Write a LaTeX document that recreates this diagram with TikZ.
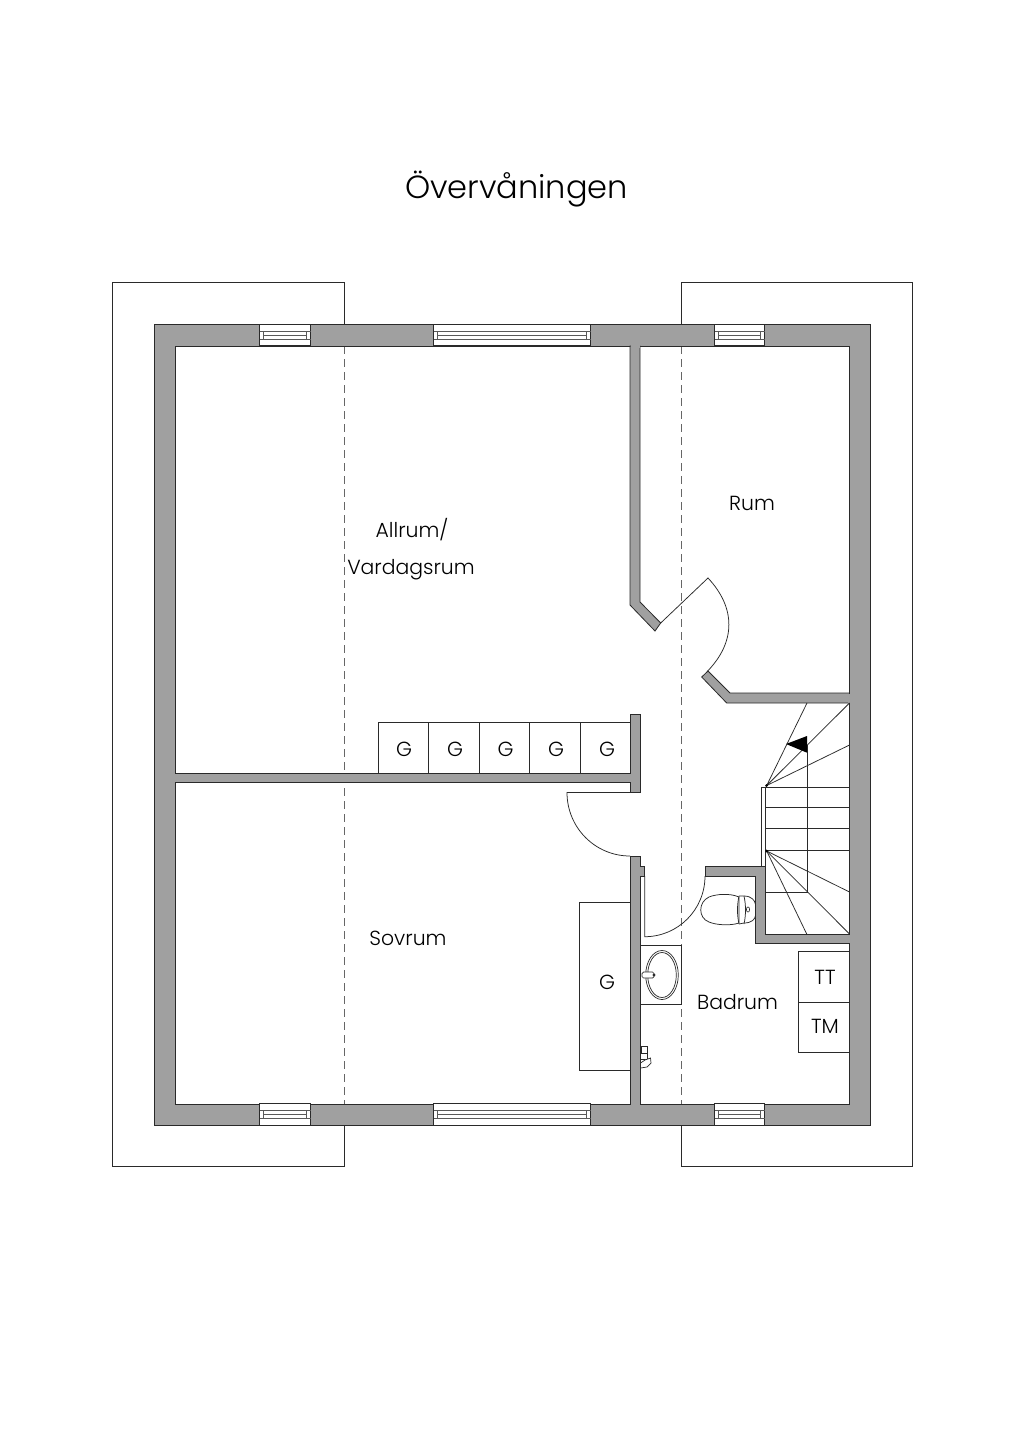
\documentclass[tikz,border=0pt]{standalone}
\usepackage{fontspec}
\setmainfont{Poppins Light}
\definecolor{wallgrey}{HTML}{A0A0A0}
\definecolor{inkline}{HTML}{2A2A2A}
\tikzset{
  wall/.style={fill=wallgrey,draw=inkline,line width=0.8pt,line join=miter},
  wallpatch/.style={fill=wallgrey},
  thin line/.style={draw=inkline,line width=0.75pt},
  dashline/.style={draw=black!60,line width=1.25pt,dash pattern=on 8pt off 5pt},
  lbl/.style={font=\fontsize{20.4}{24}\selectfont,text=black,inner sep=0pt},
  winframe/.style={fill=white,draw=inkline,line width=0.8pt},
  winline/.style={draw=black!65,line width=0.9pt},
}
\newcommand{\windowat}[3]{% x1, x2, ytop
  \path[winframe] (#1,#3) rectangle (#2,#3+21.5);
  \draw[winline] (#1+4,#3+7) rectangle (#2-4,#3+15);
  \draw[winline] (#1+4,#3+11) -- (#2-4,#3+11);
  \draw[winline] (#1,#3+7) -- (#1+4,#3+7) (#1,#3+15) -- (#1+4,#3+15);
  \draw[winline] (#2-4,#3+7) -- (#2,#3+7) (#2-4,#3+15) -- (#2,#3+15);
}
\begin{document}
\begin{tikzpicture}[x=1pt,y=-1pt]
\useasboundingbox (0,0) rectangle (1024,1448);
\fill[white] (0,0) rectangle (1024,1448);

% roof outlines
\draw[thin line] (344.3,324) -- (344.3,282.5) -- (112.5,282.5) -- (112.5,1166) -- (344.3,1166) -- (344.3,1125);
\draw[thin line] (681.3,324) -- (681.3,282.5) -- (912.5,282.5) -- (912.5,1166) -- (681.3,1166) -- (681.3,1125);

% dashed roof lines
\draw[dashline] (344.3,346) -- (344.3,1104);
\draw[dashline] (681.3,346) -- (681.3,1104);

% outer wall
\path[wall,even odd rule] (154.5,324.5) rectangle (870,1125) (175.7,346) rectangle (849.5,1104);
\windowat{259.7}{310.7}{324.3}
\windowat{433.7}{590.7}{324.3}
\windowat{714.7}{764.7}{324.3}
\windowat{259.7}{310.7}{1103.8}
\windowat{433.7}{590.7}{1103.8}
\windowat{714.7}{764.7}{1103.8}

% closets
\draw[thin line] (630,722.7) -- (378,722.7) -- (378,773);
\foreach \x in {428.5,479,529.5,580} \draw[thin line] (\x,722.7) -- (\x,773);

% wardrobe
\draw[thin line] (630,902) -- (579.5,902) -- (579.5,1070) -- (630,1070);

% interior walls
\path[wall] (630,346) -- (640,346) -- (640,602) -- (660.7,623) -- (655,631) -- (630,605) -- cycle;
\path[wall] (701.7,677) -- (708,671) -- (730,693) -- (849.5,693) -- (849.5,703) -- (726.7,703) -- cycle;
\path[wall] (175.7,773) -- (630,773) -- (630,714.5) -- (640,714.5) -- (640,792.5) -- (630,792.5) -- (630,782.7) -- (175.7,782.7) -- cycle;
\path[wall] (630,856) -- (640,856) -- (640,866.7) -- (644.7,866.7) -- (644.7,876) -- (640,876) -- (640,1104) -- (630,1104) -- cycle;
\path[wall] (705,866.7) -- (765,866.7) -- (765,934) -- (849.5,934) -- (849.5,943.3) -- (755.3,943.3) -- (755.3,876) -- (705,876) -- cycle;

% wall junctions merge into one grey mass
\path[wallpatch] (630.5,344) rectangle (639.5,348);
\path[wallpatch] (630.5,1102) rectangle (639.5,1106);
\path[wallpatch] (174,773.5) rectangle (178,782.2);
\path[wallpatch] (847.5,693.5) rectangle (851.5,702.5);
\path[wallpatch] (847.5,934.5) rectangle (851.5,942.8);

% doors
\draw[thin line] (660.7,623) -- (708,578) .. controls (736,608) and (736,642) .. (707,671.7);
\draw[thin line] (630,792.5) -- (567,792.5) .. controls (567,827.5) and (595,856) .. (630,856);
\draw[thin line] (644.7,876) -- (644.7,936.7) .. controls (678,936.7) and (705,909.7) .. (705,876);

% stairs
\draw[thin line] (761,866.7) -- (761,787) -- (849.5,787);
\draw[thin line] (765,787) -- (765,866.7);
\foreach \y in {807.7,828.7,850} \draw[thin line] (765,\y) -- (849.5,\y);
\draw[thin line] (807,745) -- (807,892) -- (765,892);
\draw[thin line] (807,703) -- (766.7,785.5) -- (849.5,703);
\draw[thin line] (766.7,785.5) -- (849.5,745);
\draw[thin line] (766.7,851) -- (849.5,892);
\draw[thin line] (766.7,851) -- (849.5,934);
\draw[thin line] (766.7,851) -- (806.7,934);
\fill[black] (766.7,785.5) circle (1.5) (766.7,851) circle (1.5);
\fill[black] (786,744) -- (807,736) -- (807,752.7) -- cycle;

% sink
\draw[thin line] (640,945.7) -- (681.3,945.7) -- (681.3,1004.7) -- (640,1004.7);
\draw[draw=inkline,line width=0.7pt] (662,975) ellipse[x radius=16.3,y radius=24.5];
\draw[draw=inkline,line width=0.7pt] (662,975) ellipse[x radius=14.3,y radius=22.5];
\draw[draw=inkline,line width=0.7pt,fill=white,rounded corners=1.5pt] (642,972) rectangle (654,978);
\fill[inkline] (654,975) circle (1.6);

% toilet
\draw[thin line,fill=white] (739,897) .. controls (730,893) and (716,894) .. (709,897) .. controls (698,902) and (698,918) .. (709,922) .. controls (716,925) and (730,926) .. (739,923) -- cycle;
\draw[thin line] (739,896) .. controls (737,905) and (737,915) .. (739,924);
\draw[thin line] (744,896) .. controls (746,905) and (746,915) .. (744,924);
\draw[thin line] (739,896) -- (744,896) .. controls (752,896) and (755,901) .. (755.3,904);
\draw[thin line] (739,924) -- (744,923) .. controls (752,923) and (755,919) .. (755.3,916);
\draw[draw=inkline,line width=0.6pt] (748,909.5) ellipse[x radius=1.6,y radius=2.6];

% tumble/washer
\draw[thin line] (849.5,951.7) -- (798.7,951.7) -- (798.7,1052.7) -- (849.5,1052.7);
\draw[thin line] (798.7,1002.3) -- (849.5,1002.3);

% tap
\draw[draw=inkline,line width=0.7pt,fill=white] (641.5,1046.5) rectangle (647,1053);
\draw[draw=inkline,line width=0.7pt,fill=white] (640.5,1053) rectangle (647.5,1059);
\draw[draw=inkline,line width=0.7pt,fill=white] (645,1060) -- (650.5,1058) -- (651,1063) -- (647,1067) -- (640.5,1068) -- (640.5,1063) -- cycle;

% labels
\node[lbl,font=\fontsize{32}{38}\selectfont] (title) at (516.5,189) {Övervåningen};
\node[lbl] (rum) at (752,503.5) {Rum};
\node[lbl] (allrum) at (412,529.5) {Allrum/};
\node[lbl] (vardag) at (411,570) {Vardagsrum};
\node[lbl] (sovrum) at (408,938) {Sovrum};
\node[lbl] (badrum) at (737.5,1002) {Badrum};
\node[lbl] (g1) at (404,749) {G};
\node[lbl] (g2) at (455,749) {G};
\node[lbl] (g3) at (505.5,749) {G};
\node[lbl] (g4) at (556,749) {G};
\node[lbl] (g5) at (607,749) {G};
\node[lbl] (g6) at (607,982) {G};
\node[lbl] (tt) at (825,977) {TT};
\node[lbl] (tm) at (825,1026.5) {TM};
\end{tikzpicture}
\end{document}
